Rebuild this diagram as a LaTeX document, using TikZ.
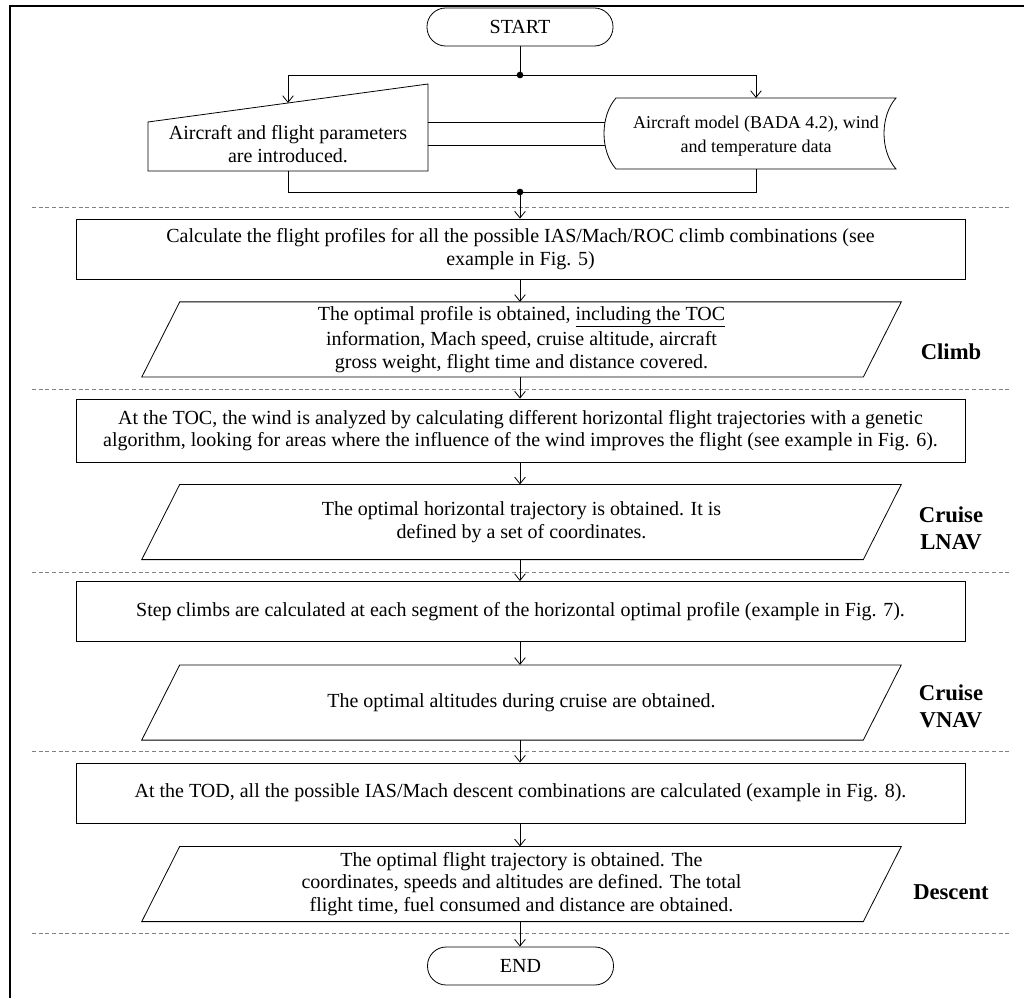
\documentclass[tikz,border=0pt]{standalone}
\usepackage{fontspec}
\setmainfont{Liberation Serif}
\usetikzlibrary{arrows.meta,calc}
\tikzset{
  every node/.style={font=\fontsize{15}{17}\selectfont},
  procbox/.style={draw,semithick,align=center,minimum width=666.75pt,minimum height=45pt},
  iobox/.style={align=center,inner sep=0pt,minimum width=540.75pt,minimum height=56pt},
  termbox/.style={draw,semithick,rounded corners=14pt,minimum width=139.5pt,minimum height=28.5pt},
  phase/.style={font=\fontsize{17}{20}\selectfont\bfseries,align=center},
  sep/.style={gray,semithick,dash pattern=on 3pt off 2pt},
  flow/.style={semithick,-{Straight Barb[length=5pt,width=8pt]}},
}
\newcommand\ioframe[1]{\draw[semithick] ($(#1.south west)+(-14.25pt,0)$) -- ($(#1.north west)+(14.25pt,0)$) -- ($(#1.north east)+(14.25pt,0)$) -- ($(#1.south east)+(-14.25pt,0)$) -- cycle;}
\begin{document}
\begin{tikzpicture}[x=0.75pt,y=-0.75pt]
\useasboundingbox (0,0) rectangle (1024,998);
\draw[line width=1.5pt] (10,998)--(10,6)--(1024,6); %枠
\foreach \y in {207,389,572,751,933} \draw[sep] (32,\y)--(1010,\y); %区切り線

\node[termbox] (start) at (520,27) {START};
\coordinate (j1) at (520,75);
\coordinate (j2) at (520,192);
\node[align=center] (inp) at (288,144) {Aircraft and flight parameters\\are introduced.};
\node[align=center,font=\fontsize{13.5}{18}\selectfont] (db) at (756,136) {Aircraft model (BADA 4.2), wind\\and temperature data};
\draw[semithick] ($(inp)+(-140,-22)$)--($(inp)+(140,-60)$)--($(inp)+(140,27)$)--($(inp)+(-140,27)$)--cycle; %手入力
\draw[semithick] ($(db)+(-140,-38)$)--($(db)+(140,-38)$) .. controls ($(db)+(124,-20)$) and ($(db)+(124,15)$) .. ($(db)+(140,33)$)
  --($(db)+(-140,33)$) .. controls ($(db)+(-156,15)$) and ($(db)+(-156,-20)$) .. cycle; %記憶データ
\draw[semithick] ($(inp)+(140,-22)$)--($(db)+(-151,-14)$);
\draw[semithick] ($(inp)+(140,1)$)--($(db)+(-151,9)$);

\draw[semithick] (start)--(j1);
\draw[semithick] (j1-|inp)--(j1-|db);
\draw[flow] (j1-|inp)--($(inp)+(0,-41)$);
\draw[flow] (j1-|db)--($(db)+(0,-38)$);
\draw[semithick] ($(inp)+(0,27)$)--(j2-|inp)--(j2-|db)--($(db)+(0,33)$);
\fill (j1) circle (2.5pt);
\fill (j2) circle (2.5pt);

\node[procbox] (calc) at (520.5,249) {Calculate the flight profiles for all the possible IAS/Mach/ROC climb combinations (see\\example in Fig. 5)};
\node[iobox] (climb) at (521.5,339.5) {The optimal profile is obtained, \underline{including the TOC}\\[2pt]information, Mach speed, cruise altitude, aircraft\\gross weight, flight time and distance covered.};
\ioframe{climb}
\node[procbox,minimum height=47.25pt] (toc) at (520.5,430.5) {At the TOC, the wind is analyzed by calculating different horizontal flight trajectories with a genetic\\algorithm, looking for areas where the influence of the wind improves the flight (see example in Fig. 6).};
\node[iobox] (lnav) at (521.5,522) {The optimal horizontal trajectory is obtained. It is\\defined by a set of coordinates.};
\ioframe{lnav}
\node[procbox] (step) at (520.5,611.5) {Step climbs are calculated at each segment of the horizontal optimal profile (example in Fig. 7).};
\node[iobox] (vnav) at (521.5,702.5) {The optimal altitudes during cruise are obtained.};
\ioframe{vnav}
\node[procbox] (tod) at (520.5,793) {At the TOD, all the possible IAS/Mach descent combinations are calculated (example in Fig. 8).};
\node[iobox] (desc) at (521.5,884) {The optimal flight trajectory is obtained. The\\coordinates, speeds and altitudes are defined. The total\\flight time, fuel consumed and distance are obtained.};
\ioframe{desc}
\node[termbox] (end) at (520.5,966) {END};

\draw[flow] (j2)--(j2|-calc.north);
\foreach \a/\b in {calc/climb,climb/toc,toc/lnav,lnav/step,step/vnav,vnav/tod,tod/desc,desc/end}
  \draw[flow] (\a.south-|j2)--(\b.north-|j2);

\node[phase] (ph1) at (951,352) {Climb};
\node[phase] (ph2) at (951,528) {Cruise\\LNAV};
\node[phase] (ph3) at (951,706) {Cruise\\VNAV};
\node[phase] (ph4) at (951,892) {Descent};
\end{tikzpicture}
\end{document}
